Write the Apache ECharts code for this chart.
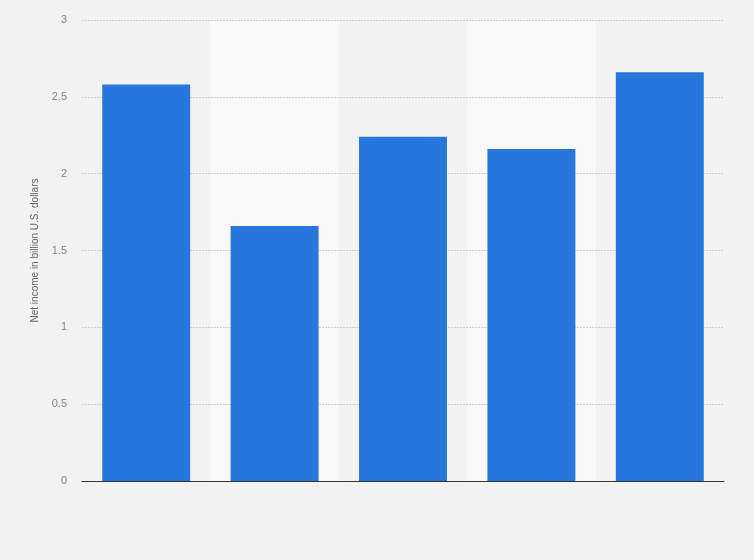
<!DOCTYPE html>
<html>
<head>
<meta charset="utf-8">
<script src="https://cdn.jsdelivr.net/npm/echarts@6/dist/echarts.min.js"></script>
<style>
html,body{margin:0;padding:0;background:#f2f2f2;}
#chart{width:754px;height:560px;}
</style>
</head>
<body>
<div id="chart"></div>
<script>
var categories = ['1', '2', '3', '4', '5'];
var netIncome = [2.58, 1.66, 2.24, 2.16, 2.66];
var yTicks = [0, 0.5, 1, 1.5, 2, 2.5, 3];
var yAxisTitle = 'Net income in billion U.S. dollars';

var chart = echarts.init(document.getElementById('chart'));
chart.setOption({
  backgroundColor: '#f2f2f2',
  animation: false,
  grid: { left: 82, right: 30, top: 20, bottom: 79, containLabel: false },
  xAxis: {
    type: 'category',
    data: categories,
    z: 0,
    axisLine: { show: true, lineStyle: { color: '#333', width: 1 } },
    axisTick: { show: false },
    axisLabel: { show: false },
    splitArea: { show: true, areaStyle: { color: ['rgba(0,0,0,0)', '#f8f8f8'] } }
  },
  yAxis: {
    type: 'value',
    z: 1,
    min: yTicks[0],
    max: yTicks[yTicks.length - 1],
    interval: 0.5,
    name: yAxisTitle,
    nameLocation: 'middle',
    nameGap: 42,
    nameTextStyle: { color: '#666', fontSize: 10, fontFamily: 'Arial, Liberation Sans, sans-serif' },
    axisLine: { show: false },
    axisTick: { show: false },
    axisLabel: { color: '#888', fontSize: 11, margin: 15, fontFamily: 'Arial, Liberation Sans, sans-serif' },
    splitLine: { show: true, showMinLine: false, lineStyle: { color: '#d0d0d0', type: [2, 1], width: 1 } }
  },
  series: [{
    type: 'bar',
    data: netIncome,
    barWidth: '68.5%',
    z: 3,
    itemStyle: { color: '#2776db' }
  }]
});
</script>
</body>
</html>
